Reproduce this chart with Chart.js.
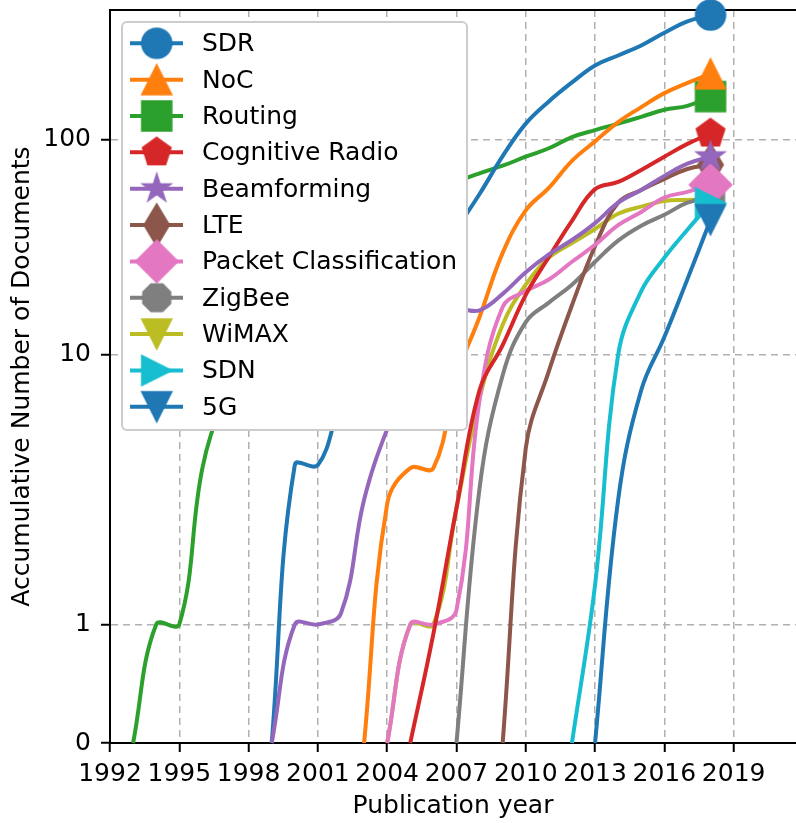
<!DOCTYPE html>
<html lang="en">
<head>
<meta charset="UTF-8">
<title>Accumulative Number of Documents</title>
<script src="https://cdn.jsdelivr.net/npm/chart.js@4"></script>
<style>
  html, body { margin: 0; padding: 0; background: #fff; overflow: hidden; }
  canvas { display: block; }
</style>
</head>
<body>
<canvas id="docsChart" width="796" height="823"></canvas>
<script>
// series, in legend order
const SERIES_NAMES = ['SDR', 'NoC', 'Routing', 'Cognitive Radio', 'Beamforming', 'LTE',
  'Packet Classification', 'ZigBee', 'WiMAX', 'SDN', '5G'];
// first year of each series (its value there is 0)
const START_YEARS = [1999, 2003, 1993, 2005, 1999, 2009, 2004, 2007, 2004, 2012, 2013];

// accumulative number of documents, one value per year
const SDR = [0, 3.9, 3.9, 6.6, 8.9, 12.5, 18, 26.5, 38.5, 56, 84, 119, 151, 185, 222, 247, 275, 315, 356, 381];
const NOC = [0, 2.8, 3.8, 3.8, 8.3, 15, 29.8, 47, 59.8, 79.9, 98.4, 121, 142, 165, 184, 203];
const ROUTING = [0, 1, 1, 3.8, 7.1, 11.1, 16.2, 21.2, 26.2, 31.8, 37.3, 43.4, 49.9, 56.7, 63.7,
  69.9, 75.8, 83.5, 91.4, 103, 111, 119, 128, 138, 144, 159];
const COGNITIVE_RADIO = [0, 0.92, 2.7, 7.4, 11.1, 19, 28.5, 42, 59, 63.7, 72.4, 83.5, 95.8, 107];
const BEAMFORMING = [0, 1, 1, 1.1, 2.9, 5.3, 8.1, 11.7, 16, 16.1, 19.2, 24.2, 29.3, 34.2, 41, 51, 58.5, 68, 77.5, 83.5];
const LTE = [0, 4.5, 8.7, 17, 32, 51, 58.5, 65.8, 73.2, 76.6];
const PACKET_CLASSIFICATION = [0, 1, 1, 1.13, 6.8, 16.7, 19.8, 22.4, 27.1, 32.5, 40.1, 46.2, 53.9, 57.3, 61.8];
const ZIGBEE = [0, 3.2, 8.4, 14.2, 17.5, 21.2, 27.1, 34, 39.9, 44.8, 51, 53.9];
const WIMAX = [0, 1, 1, 2.7, 6.9, 13.8, 21.2, 28.3, 33.1, 38.5, 45.3, 48.9, 52, 52.5, 53];
const SDN = [0, 1.4, 10, 19.8, 28.3, 38.2, 50.8];
const G5 = [0, 2.9, 7.4, 12.1, 22.5, 42.5];

const SERIES_VALUES = [SDR, NOC, ROUTING, COGNITIVE_RADIO, BEAMFORMING, LTE,
  PACKET_CLASSIFICATION, ZIGBEE, WIMAX, SDN, G5];

const X_TICKS = [1992, 1995, 1998, 2001, 2004, 2007, 2010, 2013, 2016, 2019];
const Y_TICKS = [0, 1, 10, 100];

// look
const COLORS = ['#1f77b4', '#ff7f0e', '#2ca02c', '#d62728', '#9467bd', '#8c564b',
  '#e377c2', '#7f7f7f', '#bcbd22', '#17becf', '#1f77b4'];
const MARKERS = ['circle', 'triangleUp', 'square', 'pentagon', 'star', 'thinDiamond',
  'diamond', 'octagon', 'triangleDown', 'triangleRight', 'triangleDown'];
// bottom -> top drawing order
const Z_ORDER = ['WiMAX', 'ZigBee', 'LTE', 'Routing', 'NoC', 'SDR',
  'Packet Classification', 'Cognitive Radio', 'Beamforming', 'SDN', '5G'];

Chart.defaults.font.family = '"DejaVu Sans", sans-serif';
Chart.defaults.font.size = 25;
Chart.defaults.color = '#000';

// y axis of the figure: linear from 0 to 1, then log decades of unequal height
const Y_MAX = 402;
const LIN_H = 118.6, DEC1_H = 269.7, DEC2_H = 215;
function warp(v) {
  if (v <= 1) return v * LIN_H;
  if (v <= 10) return LIN_H + Math.log10(v) * DEC1_H;
  return LIN_H + DEC1_H + Math.log10(v / 10) * DEC2_H;
}
function unwarp(w) {
  if (w <= LIN_H) return w / LIN_H;
  if (w <= LIN_H + DEC1_H) return Math.pow(10, (w - LIN_H) / DEC1_H);
  return 10 * Math.pow(10, (w - LIN_H - DEC1_H) / DEC2_H);
}

class DocsScale extends Chart.Scale {
  static id = 'docs';
  static defaults = {};
  determineDataLimits() {
    this.min = 0;
    this.max = this.options.max;
  }
  buildTicks() {
    return Y_TICKS.map(v => ({ value: v }));
  }
  getLabelForValue(v) {
    return String(v);
  }
  configure() {
    super.configure();
    this._span = warp(this.max);
  }
  getPixelForValue(v) {
    return this.getPixelForDecimal(warp(v) / this._span);
  }
  getValueForPixel(p) {
    return unwarp(this.getDecimalForPixel(p) * this._span);
  }
}
Chart.register(DocsScale);

function markerCanvas(shape, color) {
  const c = document.createElement('canvas');
  c.width = c.height = 50;
  const g = c.getContext('2d');
  g.translate(25, 25);
  g.beginPath();
  const poly = pts => {
    pts.forEach(([x, y], i) => (i ? g.lineTo(x, y) : g.moveTo(x, y)));
    g.closePath();
  };
  const ngon = (n, r, rot) => poly(Array.from({ length: n }, (_, k) => {
    const a = rot + k * 2 * Math.PI / n;
    return [r * Math.sin(a), -r * Math.cos(a)];
  }));
  switch (shape) {
    case 'circle': g.arc(0, 0, 15, 0, 2 * Math.PI); break;
    case 'triangleUp': poly([[0, -15], [15, 15], [-15, 15]]); break;
    case 'square': poly([[-15, -15], [15, -15], [15, 15], [-15, 15]]); break;
    case 'pentagon': ngon(5, 15, 0); break;
    case 'star':
      poly(Array.from({ length: 10 }, (_, k) => {
        const r = k % 2 ? 15 * 0.381966 : 15;
        const a = k * Math.PI / 5;
        return [r * Math.sin(a), -r * Math.cos(a)];
      }));
      break;
    case 'thinDiamond': poly([[0, -21.2], [12.7, 0], [0, 21.2], [-12.7, 0]]); break;
    case 'diamond': poly([[0, -21.2], [21.2, 0], [0, 21.2], [-21.2, 0]]); break;
    case 'octagon': ngon(8, 15, Math.PI / 8); break;
    case 'triangleDown': poly([[0, 15], [15, -15], [-15, -15]]); break;
    case 'triangleRight': poly([[15, 0], [-15, 15], [-15, -15]]); break;
  }
  g.fillStyle = color;
  g.fill();
  g.strokeStyle = color;
  g.lineWidth = 1.5;
  g.stroke();
  return c;
}

const markerImages = MARKERS.map((m, i) => markerCanvas(m, COLORS[i]));

const datasets = SERIES_NAMES.map((name, i) => {
  const values = SERIES_VALUES[i];
  const last = values.length - 1;
  return {
    label: name,
    data: values.map((v, k) => ({ x: START_YEARS[i] + k, y: v })),
    borderColor: COLORS[i],
    backgroundColor: COLORS[i],
    borderWidth: 4,
    tension: 0.4,
    pointStyle: markerImages[i],
    pointRadius: ctx => (ctx.dataIndex === last ? 15 : 0),
    pointHoverRadius: 0,
    clip: false,
    order: Z_ORDER.length - 1 - Z_ORDER.indexOf(name)
  };
});

// top spine under the data, legend box over it
const framePlugin = {
  id: 'frame',
  beforeDatasetsDraw(chart) {
    const { ctx, chartArea: a } = chart;
    ctx.save();
    ctx.strokeStyle = '#000';
    ctx.lineWidth = 2;
    ctx.beginPath();
    ctx.moveTo(a.left - 1, a.top);
    ctx.lineTo(a.right, a.top);
    ctx.stroke();
    ctx.restore();
  },
  afterDatasetsDraw(chart) {
    const { ctx, chartArea: a } = chart;
    const bx = a.left + 12, by = a.top + 12, bw = 345, bh = 408;
    ctx.save();
    ctx.beginPath();
    ctx.roundRect(bx, by, bw, bh, 5);
    ctx.fillStyle = '#fff';
    ctx.fill();
    ctx.strokeStyle = '#cccccc';
    ctx.lineWidth = 2;
    ctx.stroke();

    ctx.font = '25px "DejaVu Sans", sans-serif';
    ctx.textBaseline = 'middle';
    ctx.textAlign = 'left';
    SERIES_NAMES.forEach((name, i) => {
      const y = by + 21.3 + i * 36.35;
      ctx.strokeStyle = COLORS[i];
      ctx.lineWidth = 4;
      ctx.beginPath();
      ctx.moveTo(bx + 8, y);
      ctx.lineTo(bx + 61, y);
      ctx.stroke();
      const img = markerImages[i];
      ctx.drawImage(img, bx + 34.7 - img.width / 2, y - img.height / 2);
      ctx.fillStyle = '#000';
      ctx.fillText(name, bx + 80, y + 1.5);
    });
    ctx.restore();
  }
};

new Chart(document.getElementById('docsChart'), {
  type: 'line',
  data: { datasets },
  options: {
    responsive: false,
    animation: false,
    events: [],
    layout: { autoPadding: false, padding: { top: 10, left: 0, right: 0, bottom: 0 } },
    plugins: {
      legend: { display: false },
      tooltip: { enabled: false }
    },
    scales: {
      x: {
        type: 'linear',
        min: 1992,
        max: 2021.7,
        afterBuildTicks: s => { s.ticks = X_TICKS.map(v => ({ value: v })); },
        afterFit: s => { s.height = 80; s.paddingLeft = 0; s.paddingRight = 0; },
        ticks: { callback: v => String(v), padding: 7, maxRotation: 0, autoSkip: false, color: '#000' },
        grid: { color: '#b0b0b0', lineWidth: 1.5, tickLength: 9, tickWidth: 2, tickColor: '#000' },
        border: { display: true, color: '#000', width: 2, dash: [7, 5] },
        title: { display: true, text: 'Publication year', color: '#000', padding: { top: 0, bottom: 2 } }
      },
      y: {
        type: 'docs',
        max: Y_MAX,
        afterFit: s => { s.width = 110; s.paddingTop = 0; s.paddingBottom = 0; },
        ticks: { callback: v => String(v), padding: 10, color: '#000' },
        grid: { color: '#b0b0b0', lineWidth: 1.5, tickLength: 9, tickWidth: 2, tickColor: '#000' },
        border: { display: true, color: '#000', width: 2, dash: [7, 5] },
        title: { display: true, text: 'Accumulative Number of Documents', color: '#000', padding: { top: 7, bottom: 0 } }
      }
    }
  },
  plugins: [framePlugin]
});
</script>
</body>
</html>
